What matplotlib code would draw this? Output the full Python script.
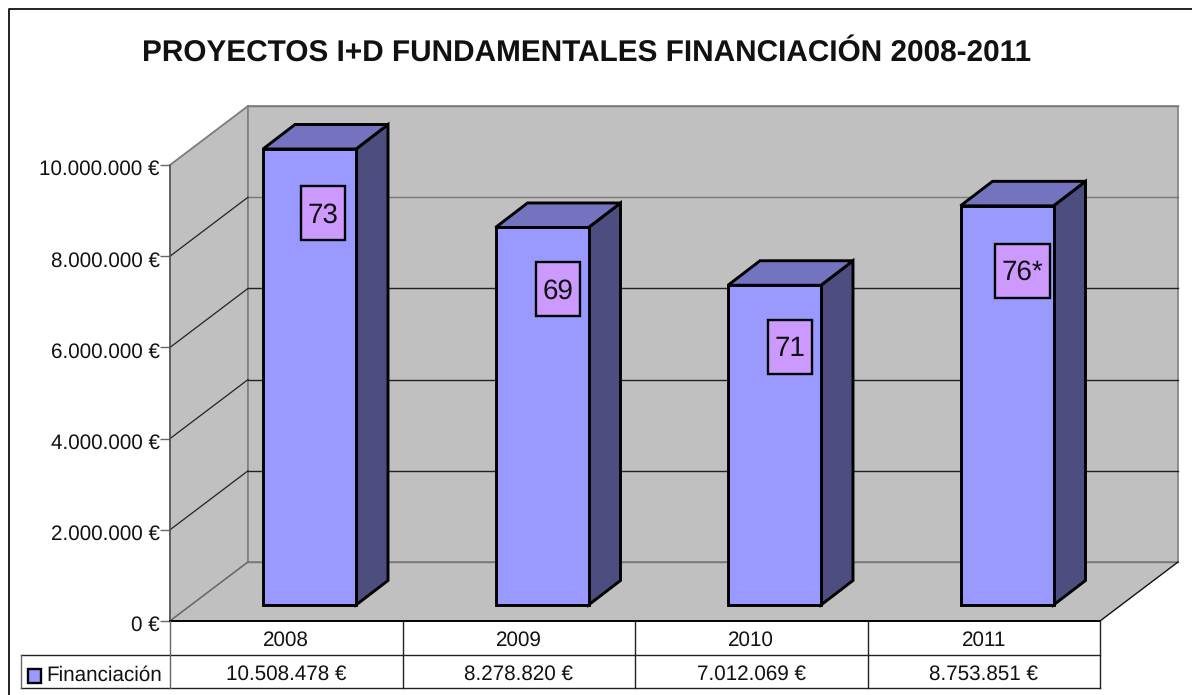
import matplotlib
matplotlib.use("Agg")
import matplotlib.pyplot as plt
from matplotlib.patches import Polygon, Rectangle
from matplotlib.transforms import ScaledTranslation

plt.rcParams['font.family'] = ['Liberation Sans', 'DejaVu Sans']
plt.rcParams['text.hinting'] = 'none'

years = ["2008", "2009", "2010", "2011"]
financiacion = [10508478, 8278820, 7012069, 8753851]
table_values = ["10.508.478 €", "8.278.820 €", "7.012.069 €", "8.753.851 €"]
project_labels = ["73", "69", "71", "76*"]
y_ticks = [0, 2000000, 4000000, 6000000, 8000000, 10000000]
y_tick_labels = ["0 €", "2.000.000 €", "4.000.000 €", "6.000.000 €", "8.000.000 €", "10.000.000 €"]
series_name = "Financiación"
title = "PROYECTOS I+D FUNDAMENTALES FINANCIACIÓN 2008-2011"

y_max = 10000000

# scales: one category = 232.5 px, one million = 45.6 px
px_x = 1 / 232.5
px_y = 1e6 / 45.6
W, H = 1192, 695
x0_px, y0_px = 170, 621

# depth of the box and of the bars
depth_x, depth_y = 78 * px_x, 59 * px_y
bar_dx, bar_dy = 32 * px_x, 24.5 * px_y
bar_base = 16 * px_y
bar_left, bar_w = 0.4, 0.4
row1, row2 = -34 * px_y, -67 * px_y
n = len(years)

# small hand nudges for the number boxes, in px (x to the right, y downwards)
nudge_x = [-1, 2, 1, -2]
nudge_y = [0, -2, -2, 1]

fig = plt.figure(figsize=(W / 100, H / 100), dpi=100)
ax = fig.add_axes([0, 0, 1, 1])
ax.set_xlim(-x0_px * px_x, (W - x0_px) * px_x)
ax.set_ylim((y0_px - H) * px_y, y0_px * px_y)
ax.patch.set_visible(False)

for s in ["top", "right", "bottom"]:
    ax.spines[s].set_visible(False)
ax.spines["left"].set_position(("data", 0))
ax.spines["left"].set_bounds(0, y_max)
ax.spines["left"].set_color("#555555")
ax.spines["left"].set_linewidth(1.1)
ax.set_xticks([])
ax.set_yticks(y_ticks)
ax.set_yticklabels(y_tick_labels, fontsize=14.9, color="#111111")
ax.tick_params(axis="y", length=7, width=1, color="#666666", pad=0.5)
for lab in ax.get_yticklabels():
    lab.set_transform(lab.get_transform() + ScaledTranslation(0, -2.5 / 100, fig.dpi_scale_trans))

wall = "#C0C0C0"
wall_edge = "#808080"

# walls and floor
ax.add_patch(Polygon([(0, 0), (0, y_max), (depth_x, y_max + depth_y), (depth_x, depth_y)],
                     fc=wall, ec=wall_edge, lw=1.2, zorder=1))
ax.add_patch(Polygon([(depth_x, depth_y), (depth_x, y_max + depth_y),
                      (n + depth_x, y_max + depth_y), (n + depth_x, depth_y)],
                     fc=wall, ec=wall_edge, lw=1.2, zorder=1))
ax.add_patch(Polygon([(0, 0), (n, 0), (n + depth_x, depth_y), (depth_x, depth_y)],
                     fc=wall, ec="none", zorder=1))

# gridlines
for t in y_ticks:
    c = "#777777" if t in (0, 8000000, y_max) else "#222222"
    ax.plot([depth_x, n + depth_x], [t + depth_y, t + depth_y], color=c, lw=1, zorder=2)
    if t > 0 and t < y_max:
        ax.plot([0, depth_x], [t, t + depth_y], color="#222222", lw=0.9, zorder=2)
ax.plot([0, depth_x], [0, depth_y], color="#666666", lw=1, zorder=2)
ax.plot([0, depth_x], [y_max, y_max + depth_y], color=wall_edge, lw=1, zorder=2)
ax.plot([n, n + depth_x], [0, depth_y], color="#111111", lw=1, zorder=2)

# bars (clipped at the axis max like the original)
for i, v in enumerate(financiacion):
    x1 = i + bar_left
    x2 = x1 + bar_w
    y1 = bar_base
    y2 = bar_base + min(v, y_max)
    k = dict(ec="black", lw=2.1, joinstyle="miter", zorder=4)
    ax.add_patch(Polygon([(x2, y1), (x2 + bar_dx, y1 + bar_dy), (x2 + bar_dx, y2 + bar_dy), (x2, y2)],
                         fc="#4D4D80", **k))
    ax.add_patch(Polygon([(x1, y2), (x2, y2), (x2 + bar_dx, y2 + bar_dy), (x1 + bar_dx, y2 + bar_dy)],
                         fc="#7373BF", **k))
    ax.add_patch(Polygon([(x1, y1), (x2, y1), (x2, y2), (x1, y2)], fc="#9999FF", **k))

    # label box with the number of projects
    lab_x = x1 + bar_w / 2 + (14 + nudge_x[i]) * px_x
    if len(project_labels[i]) > 2:
        lab_x += 3 * px_x
    lab_y = y2 - (64 + nudge_y[i]) * px_y
    ax.text(lab_x + 0.5 * px_x, lab_y - 2 * px_y, project_labels[i], fontsize=20, ha="center", va="center",
            color="#111111", zorder=6)
    box_w = (44 if len(project_labels[i]) == 2 else 55) * px_x
    box_h = 54 * px_y
    ax.add_patch(Rectangle((lab_x - box_w / 2, lab_y - box_h / 2), box_w, box_h,
                           fc="#CC99FF", ec="black", lw=1.7, zorder=5))

# data table under the chart
legend_left = -149 * px_x
ax.plot([0, n], [0, 0], color="black", lw=1.4, zorder=3)
ax.plot([legend_left, n], [row1, row1], color="#222222", lw=1, zorder=3)
ax.plot([legend_left, n], [row2, row2], color="#222222", lw=1, zorder=3)
ax.plot([legend_left, legend_left], [row1, row2], color="#666666", lw=1, zorder=3)
ax.plot([0, 0], [0, row2], color="#666666", lw=1, zorder=3)
for i in range(1, n + 1):
    ax.plot([i, i], [0, row2], color="#222222", lw=1, zorder=3)
for i in range(n):
    ax.text(i + 0.5, row1 / 2 - 2 * px_y, years[i], fontsize=14.9, ha="center", va="center", color="#111111")
    ax.text(i + 0.5, (row1 + row2) / 2 - 3 * px_y, table_values[i], fontsize=14.9, ha="center", va="center", color="#111111")

key_y = (row1 + row2) / 2 - 4 * px_y
ax.add_patch(Rectangle((legend_left + 6.5 * px_x, key_y - 7 * px_y), 13 * px_x, 14 * px_y,
                       fc="#9999FF", ec="black", lw=1.7, zorder=4))
ax.text(legend_left + 25 * px_x, key_y, series_name, fontsize=14.9, ha="left", va="center", color="#111111")

# outer frame of the chart area
ax.plot([8.5 / W, 8.5 / W, 1], [0, 1 - 8.5 / H, 1 - 8.5 / H], color="#111111", lw=1.3,
        transform=ax.transAxes, clip_on=False)

ax.text(587 / W, 1 - 53 / H, title, fontsize=21.45, fontweight="bold", ha="center", va="center",
        color="#111111", transform=ax.transAxes)

fig.savefig("out.png", dpi=100)
